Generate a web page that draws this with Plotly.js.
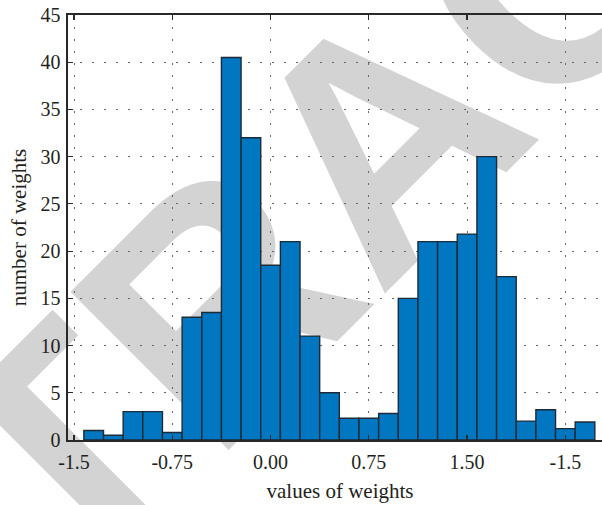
<!DOCTYPE html>
<html>
<head>
<meta charset="utf-8">
<script src="https://cdn.plot.ly/plotly-3.0.1.min.js"></script>
<style>
html,body{margin:0;padding:0;background:#fff;overflow:hidden;width:602px;height:505px;}
#chart{width:612px;height:505px;}
</style>
</head>
<body>
<div id="chart"></div>
<script>
// bin centres (values of weights) and bar heights (number of weights)
const binCenters = [-1.35, -1.2, -1.05, -0.9, -0.75, -0.6, -0.45, -0.3, -0.15, 0.0, 0.15, 0.3, 0.45,
                    0.6, 0.75, 0.9, 1.05, 1.2, 1.35, 1.5, 1.65, 1.8, 1.95, 2.1, 2.25, 2.4];
const counts = [1.0, 0.5, 3.0, 3.0, 0.8, 13.0, 13.5, 40.5, 32.0, 18.5, 21.0, 11.0, 5.0,
                2.3, 2.3, 2.8, 15.0, 21.0, 21.0, 21.8, 30.0, 17.3, 2.0, 3.2, 1.2, 1.9];
const binWidth = 0.15;
const xTickVals = [-1.5, -0.75, 0.0, 0.75, 1.5, 2.25];
const xTickText = ['-1.5', '-0.75', '0.00', '0.75', '1.50', '-1.5'];
const yTickVals = [0, 5, 10, 15, 20, 25, 30, 35, 40, 45];
const xTitle = 'values of weights';
const yTitle = 'number of weights';
const watermark = 'RETRACTED';

const serif = 'Liberation Serif, Times New Roman, serif';
const axisColor = '#282828';
const tickColor = '#2a2a2a';
const gridColor = '#666666';
const textColor = '#231f20';

const trace = {
  type: 'bar',
  x: binCenters,
  y: counts,
  width: binCenters.map(() => binWidth),
  marker: {color: '#0077c0', line: {color: '#1e2a36', width: 1.4}},
  hoverinfo: 'x+y'
};

const layout = {
  width: 612,
  height: 505,
  margin: {l: 68, r: 0, t: 15, b: 65},
  paper_bgcolor: '#ffffff',
  plot_bgcolor: 'rgba(0,0,0,0)',
  showlegend: false,
  bargap: 0,
  xaxis: {
    range: [-1.546, 2.606],
    tickvals: xTickVals,
    ticktext: xTickText,
    ticks: 'inside',
    ticklen: 5,
    tickwidth: 1.2,
    tickcolor: tickColor,
    showline: true,
    linecolor: axisColor,
    linewidth: 1.6,
    mirror: 'ticks',
    showgrid: true,
    gridcolor: gridColor,
    gridwidth: 1,
    griddash: '2px,10px',
    zeroline: false,
    tickfont: {family: serif, size: 20, color: textColor},
    ticklabelstandoff: 3,
    title: {text: xTitle, font: {family: serif, size: 21, color: textColor}, standoff: 12}
  },
  yaxis: {
    range: [0, 45],
    tickvals: yTickVals,
    ticks: 'inside',
    ticklen: 5,
    tickwidth: 1.2,
    tickcolor: tickColor,
    showline: true,
    linecolor: axisColor,
    linewidth: 1.6,
    mirror: false,
    showgrid: true,
    gridcolor: gridColor,
    gridwidth: 1,
    griddash: '2px,10px',
    zeroline: false,
    tickfont: {family: serif, size: 20, color: textColor},
    ticklabelstandoff: 2,
    title: {text: yTitle, font: {family: serif, size: 21, color: textColor}, standoff: 8}
  },
  shapes: [{
    type: 'rect', xref: 'paper', yref: 'paper', layer: 'below',
    x0: 0.537, x1: 0.539, y0: 0.764, y1: 0.766,
    line: {width: 0}, fillcolor: 'rgba(0,0,0,0)',
    label: {
      text: watermark,
      textangle: -45,
      textposition: 'middle center',
      font: {family: 'Liberation Sans, Arial, sans-serif', size: 325, color: '#d3d3d3', weight: 'bold'}
    }
  }]
};

Plotly.newPlot('chart', [trace], layout, {displayModeBar: false, staticPlot: true});
</script>
</body>
</html>
